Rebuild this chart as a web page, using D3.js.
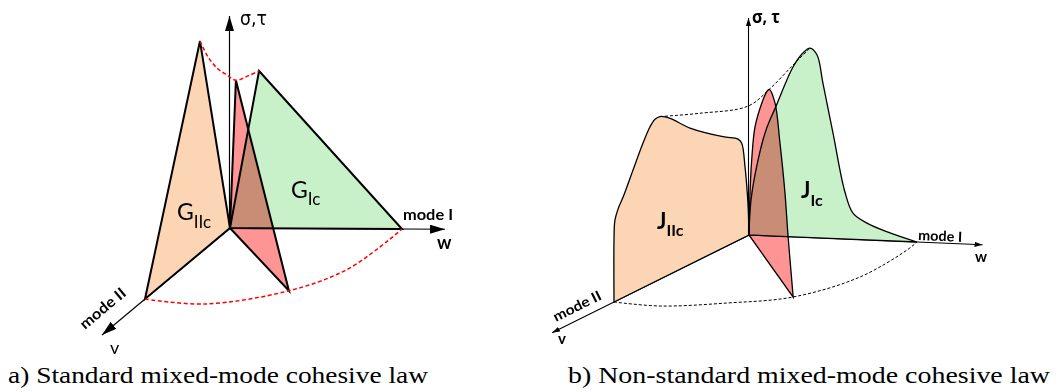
<!DOCTYPE html>
<html>
<head>
<meta charset="utf-8">
<script src="https://cdn.jsdelivr.net/npm/d3@7"></script>
<style>
  html, body { margin: 0; padding: 0; background: #fff; }
  svg { display: block; }
</style>
</head>
<body>
<svg id="fig" width="1056" height="392"></svg>
<script>
// ---------------------------------------------------------------------------
// Cohesive-law data.
// Profiles are [opening along the loading path (0..1 of final opening), traction].
// Paths are the final opening split into (w: mode I, v: mode II) components.
// Envelopes are [w, v, traction] (peak envelope) or [w, v] (final-opening envelope).
// ---------------------------------------------------------------------------

// a) standard (bilinear) mixed-mode law
const stdModeI  = [[0, 0], [0.169, 0.786], [1, 0]];
const stdModeII = [[0, 0], [0.353, 1.06], [1, 0]];
const stdMixed  = [[0, 0], [0.10, 0.77], [1, 0]];
const stdModeIPath  = [1, 0];
const stdModeIIPath = [0, 1];
const stdMixedPath  = [0.774, 0.873];
const stdPeakEnvelope = [
  [0, 0.353, 1.06], [0.0173, 0.2937, 0.96], [0.0388, 0.2199, 0.873],
  [0.0582, 0.153, 0.82], [0.0774, 0.0873, 0.77], [0.1252, 0.0417, 0.776],
  [0.169, 0, 0.786]
];
const stdFailureEnvelope = [[0, 1], [0.38, 1.065], [0.774, 0.873], [0.96, 0.58], [1.0, 0.155], [1, 0]];

// b) non-standard mixed-mode law
const nsModeI = [
  [0, 0], [0.012, 0.175], [0.054, 0.377], [0.101, 0.528], [0.161, 0.65],
  [0.262, 0.849], [0.321, 0.921], [0.363, 0.947], [0.405, 0.914], [0.44, 0.775],
  [0.5, 0.527], [0.571, 0.235], [0.619, 0.131], [0.702, 0.084], [0.839, 0.04], [1, 0]
];
const nsModeII = [
  [0, 0], [0.0052, 0.127], [0.0126, 0.213], [0.0296, 0.351], [0.054, 0.477],
  [0.0815, 0.507], [0.1926, 0.556], [0.437, 0.681], [0.585, 0.779], [0.659, 0.813],
  [0.696, 0.812], [0.733, 0.787], [0.785, 0.723], [0.859, 0.613], [0.931, 0.504],
  [0.968, 0.458], [0.993, 0.407], [1, 0.31], [1, 0.01], [1, 0]
];
const nsMixed = [
  [0, 0], [0.0226, 0.217], [0.061, 0.394], [0.136, 0.583], [0.287, 0.747],
  [0.4, 0.84], [0.459, 0.871], [0.588, 0.843], [0.701, 0.677], [0.814, 0.463],
  [0.882, 0.274], [1, 0]
];
const nsModeIPath  = [1, 0];
const nsModeIIPath = [0, 1];
const nsMixedPath  = [0.93, 0.83];
const nsPeakEnvelope = [
  [0, 0.659, 0.813], [0.154, 0.555, 0.80], [0.339, 0.429, 0.80],
  [0.427, 0.381, 0.871], [0.3866, 0.155, 0.915], [0.363, 0, 0.947]
];
const nsFailureEnvelope = [[0, 1], [0.297, 1.029], [0.632, 0.949], [0.928, 0.828], [1.074, 0.515], [1.034, 0.116], [1, 0]];

// Text
const captions = ["a) Standard mixed-mode cohesive law", "b) Non-standard mixed-mode cohesive law"];
const tractionLabels = ["\u03C3,\u03C4", "\u03C3, \u03C4"];
const modeLabels = ["mode I", "mode II"];
const openingLabels = ["w", "v"];

// ---------------------------------------------------------------------------
// Panel geometry (oblique projection of the w / v / traction axes)
// ---------------------------------------------------------------------------
const panels = {
  std: { origin: [230, 228], w: [172, 1], v: [-85, 71], tPx: 200,
         wAxis: 1.25, vAxis: 1.506, tAxisTop: 16 },
  ns:  { origin: [749, 235], w: [168, 7], v: [-135, 67], tPx: 200,
         wAxis: 1.39, vAxis: 1.459, tAxisTop: 18 }
};

function projector(p) {
  const wx = d3.scaleLinear().domain([0, 1]).range([0, p.w[0]]);
  const wy = d3.scaleLinear().domain([0, 1]).range([0, p.w[1]]);
  const vx = d3.scaleLinear().domain([0, 1]).range([0, p.v[0]]);
  const vy = d3.scaleLinear().domain([0, 1]).range([0, p.v[1]]);
  const ty = d3.scaleLinear().domain([0, 1]).range([0, -p.tPx]);
  return (w, v, t = 0) => [p.origin[0] + wx(w) + vx(v), p.origin[1] + wy(w) + vy(v) + ty(t)];
}

const svg = d3.select("#fig");
const defs = svg.append("defs");

function arrowMarker(id, len, half) {
  defs.append("marker")
    .attr("id", id)
    .attr("markerUnits", "userSpaceOnUse")
    .attr("viewBox", `0 ${-half} ${len} ${2 * half}`)
    .attr("refX", len).attr("refY", 0)
    .attr("markerWidth", len).attr("markerHeight", 2 * half)
    .attr("orient", "auto")
    .append("path")
    .attr("d", `M0,${-half}L${len},0L0,${half}Z`)
    .attr("fill", "#000");
}
arrowMarker("arrowBig", 15, 4.5);
arrowMarker("arrowSmall", 8, 2.6);

const colours = {
  modeII: "#fcd5b5",
  modeI: "#c9f1c9",
  mixed: "#ff9494"
};

function lawPath(proj, profile, path, curve) {
  const pts = profile.map(([s, t]) => proj(s * path[0], s * path[1], t));
  return d3.line().curve(curve)(pts) + "Z";
}

function drawPanel(key, laws, peakEnv, failEnv, opts) {
  const p = panels[key];
  const proj = projector(p);
  const g = svg.append("g").style("isolation", "isolate");
  const o = p.origin;

  // opening axes (drawn first, the law outlines sit on top)
  const wEnd = proj(p.wAxis, 0);
  const vEnd = proj(0, p.vAxis);
  g.append("line").attr("x1", o[0]).attr("y1", o[1]).attr("x2", wEnd[0]).attr("y2", wEnd[1])
    .attr("stroke", "#000").attr("stroke-width", opts.axisWidth).attr("marker-end", `url(#${opts.marker})`);
  g.append("line").attr("x1", o[0]).attr("y1", o[1]).attr("x2", vEnd[0]).attr("y2", vEnd[1])
    .attr("stroke", "#000").attr("stroke-width", opts.axisWidth).attr("marker-end", `url(#${opts.marker})`);

  laws.forEach(l => {
    g.append("path")
      .attr("d", lawPath(proj, l.profile, l.path, opts.curve))
      .attr("fill", l.fill)
      .attr("stroke", "#000")
      .attr("stroke-width", opts.lawWidth)
      .attr("stroke-linejoin", "miter")
      .style("mix-blend-mode", l.blend || "normal");
  });

  // vertical traction axis
  g.append("line").attr("x1", o[0] - 0.5).attr("y1", o[1]).attr("x2", o[0] - 0.5).attr("y2", p.tAxisTop)
    .attr("stroke", "#000").attr("stroke-width", opts.axisWidth).attr("marker-end", `url(#${opts.marker})`);

  // envelopes
  const env = d3.line().curve(d3.curveCatmullRom.alpha(0.5));
  g.append("path")
    .attr("d", env(peakEnv.map(d => proj(d[0], d[1], d[2]))))
    .attr("fill", "none").attr("stroke", opts.envColour)
    .attr("stroke-width", opts.envWidth).attr("stroke-dasharray", opts.envDash);
  g.append("path")
    .attr("d", env(failEnv.map(d => proj(d[0], d[1], 0))))
    .attr("fill", "none").attr("stroke", opts.envColour)
    .attr("stroke-width", opts.envWidth).attr("stroke-dasharray", opts.envDash);
  return g;
}

// a) standard law
const gA = drawPanel("std", [
  { profile: stdModeII, path: stdModeIIPath, fill: colours.modeII },
  { profile: stdModeI,  path: stdModeIPath,  fill: colours.modeI },
  { profile: stdMixed,  path: stdMixedPath,  fill: colours.mixed, blend: "multiply" }
], stdPeakEnvelope, stdFailureEnvelope, {
  curve: d3.curveLinear, lawWidth: 2, axisWidth: 1.2, marker: "arrowBig",
  envColour: "#ff0000", envWidth: 1.5, envDash: "4,2.5"
});

// b) non-standard law
const gB = drawPanel("ns", [
  { profile: nsModeII, path: nsModeIIPath, fill: colours.modeII },
  { profile: nsModeI,  path: nsModeIPath,  fill: colours.modeI },
  { profile: nsMixed,  path: nsMixedPath,  fill: colours.mixed, blend: "multiply" }
], nsPeakEnvelope, nsFailureEnvelope, {
  curve: d3.curveCatmullRom.alpha(0.5), lawWidth: 1.3, axisWidth: 1.1, marker: "arrowSmall",
  envColour: "#000", envWidth: 1, envDash: "3,2"
});

// ---------------------------------------------------------------------------
// Labels
// ---------------------------------------------------------------------------
const sans = "Lato, 'Open Sans', 'DejaVu Sans', sans-serif";

function label(g, txt, x, y, o = {}) {
  const t = g.append("text").attr("x", x).attr("y", y).text(txt)
    .attr("font-family", o.family || sans)
    .attr("font-size", o.size || 15)
    .attr("font-weight", o.weight || 400)
    .attr("fill", "#000");
  if (o.len) t.attr("textLength", o.len).attr("lengthAdjust", "spacingAndGlyphs");
  if (o.rotate) t.attr("transform", `rotate(${o.rotate},${x},${y})`);
  return t;
}
function subLabel(g, main, sub, x, y, o) {
  const t = g.append("text").attr("x", x).attr("y", y)
    .attr("font-family", sans).attr("font-weight", o.weight || 400).attr("fill", "#000");
  t.append("tspan").attr("font-size", o.size).text(main);
  t.append("tspan").attr("font-size", o.subSize).attr("dy", o.subDy).text(sub);
}

// panel a
label(gA, tractionLabels[0], 240, 25, { family: "'DejaVu Sans', sans-serif", size: 19, len: 27 });
label(gA, modeLabels[0], 403, 220, { weight: 700, size: 15, len: 50 });
label(gA, openingLabels[0], 437, 249, { weight: 700, size: 18 });
label(gA, modeLabels[1], 85, 330, { weight: 700, size: 15, len: 55, rotate: -40 });
label(gA, openingLabels[1], 110, 354, { size: 18 });
subLabel(gA, "G", "IIc", 177, 220, { size: 23, subSize: 17, subDy: 8 });
subLabel(gA, "G", "Ic", 291, 198, { size: 23, subSize: 17, subDy: 7 });

// panel b
label(gB, tractionLabels[1], 752, 23, { family: "'Open Sans', 'DejaVu Sans', sans-serif", weight: 700, size: 18, len: 28 });
label(gB, modeLabels[0], 918, 240, { weight: 700, size: 14, len: 44, rotate: 2.4 });
label(gB, openingLabels[0], 975, 262, { weight: 700, size: 15 });
label(gB, modeLabels[1], 556, 322, { weight: 700, size: 14, len: 52, rotate: -26.4 });
label(gB, openingLabels[1], 558, 344, { weight: 700, size: 15 });
subLabel(gB, "J", "IIc", 657, 229, { weight: 700, size: 22, subSize: 16, subDy: 7 });
subLabel(gB, "J", "Ic", 801, 198, { weight: 700, size: 22, subSize: 16, subDy: 8 });

// captions
const serif = "'Liberation Serif', 'Times New Roman', serif";
label(svg, captions[0], 8, 383, { family: serif, size: 23, len: 420 });
label(svg, captions[1], 568, 383, { family: serif, size: 23, len: 482 });
</script>
</body>
</html>
